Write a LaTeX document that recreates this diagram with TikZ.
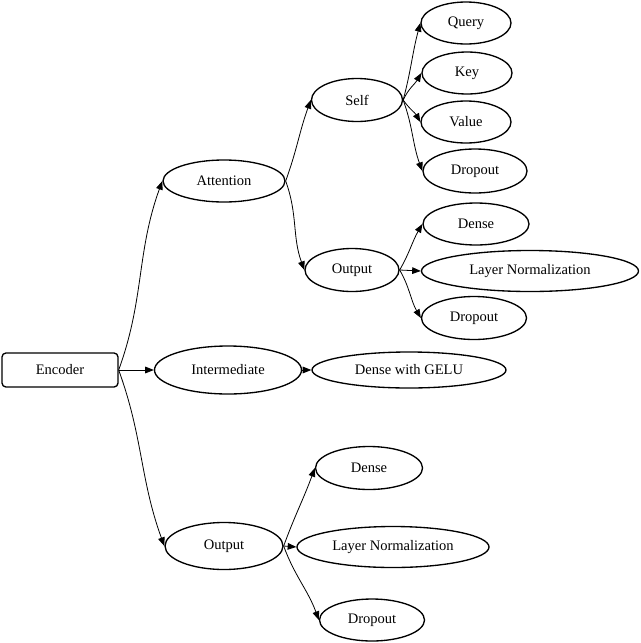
\documentclass[tikz,border=0pt]{standalone}
\usepackage{fontspec}
\setmainfont{Liberation Serif}
\usetikzlibrary{shapes.geometric,arrows.meta}
\begin{document}
\begin{tikzpicture}[x=0.75pt,y=-0.75pt,
  every node/.style={font=\fontsize{10.9pt}{12pt}\selectfont, inner sep=0pt},
  ell/.style={ellipse, draw, line width=1pt},
  box/.style={rectangle, rounded corners=3pt, draw, line width=1pt, minimum width=87pt, minimum height=25.5pt},
  conn/.style={line width=0.6pt, -{Triangle[length=6.5pt,width=5pt]}}]
\useasboundingbox (0,0) rectangle (640,643);
\node[box] (enc) at (60,370) {Encoder};
\node[ell, minimum width=91.5pt, minimum height=31.5pt] (att) at (224,181) {Attention};
\node[ell, minimum width=110.25pt, minimum height=36pt] (int) at (228,370) {Intermediate};
\node[ell, minimum width=145.5pt, minimum height=27pt] (gelu) at (409,370) {Dense with GELU};
\node[ell, minimum width=88.5pt, minimum height=35.25pt] (out) at (224,546) {Output};
\node[ell, minimum width=80.25pt, minimum height=32.25pt] (dense2) at (369,468) {Dense};
\node[ell, minimum width=144pt, minimum height=30.75pt] (ln2) at (393,547) {Layer Normalization};
\node[ell, minimum width=78.75pt, minimum height=31.5pt] (drop3) at (372,620) {Dropout};
\node[ell, minimum width=68.25pt, minimum height=32.25pt] (self) at (357,100) {Self};
\node[ell, minimum width=67.5pt, minimum height=31.5pt] (q) at (466,23) {Query};
\node[ell, minimum width=67.5pt, minimum height=31.5pt] (k) at (467,73) {Key};
\node[ell, minimum width=67.5pt, minimum height=31.5pt] (v) at (466,122) {Value};
\node[ell, minimum width=78pt, minimum height=33pt] (drop1) at (475,171) {Dropout};
\node[ell, minimum width=70.5pt, minimum height=32.25pt] (aout) at (352,270) {Output};
\node[ell, minimum width=79.5pt, minimum height=31.5pt] (dense1) at (476,224) {Dense};
\node[ell, minimum width=162.75pt, minimum height=30.75pt] (ln1) at (530,271) {Layer Normalization};
\node[ell, minimum width=78.75pt, minimum height=32.25pt] (drop2) at (474,318) {Dropout};
% edges
\draw[conn] (enc.east) to[out=70,in=-110] (att.west);
\draw[conn] (enc.east) -- (int.west);
\draw[conn] (enc.east) to[out=-70,in=110] (out.west);
\draw[conn] (int.east) -- (gelu.west);
\draw[conn] (att.east) to[out=70,in=-110] (self.west);
\draw[conn] (att.east) to[out=-70,in=110] (aout.west);
\draw[conn] (self.east) to[out=75,in=-105] (q.west);
\draw[conn] (self.east) to[out=65,in=-120] (k.west);
\draw[conn] (self.east) to[out=-55,in=120] (v.west);
\draw[conn] (self.east) to[out=-70,in=110] (drop1.west);
\draw[conn] (aout.east) to[out=60,in=-120] (dense1.west);
\draw[conn] (aout.east) -- (ln1.west);
\draw[conn] (aout.east) to[out=-60,in=120] (drop2.west);
\draw[conn] (out.east) to[out=70,in=-110] (dense2.west);
\draw[conn] (out.east) -- (ln2.west);
\draw[conn] (out.east) to[out=-70,in=110] (drop3.west);
\end{tikzpicture}
\end{document}
